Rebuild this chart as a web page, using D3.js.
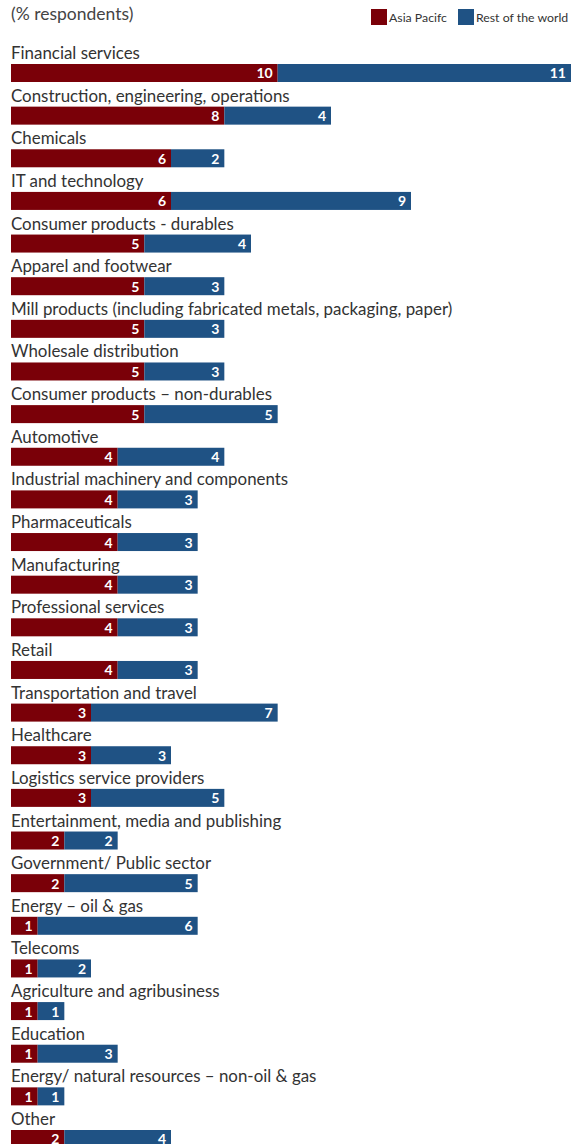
<!DOCTYPE html>
<html>
<head>
<meta charset="utf-8">
<script src="https://cdn.jsdelivr.net/npm/d3@7"></script>
<style>
  body { margin: 0; background: #fff; }
  svg text { font-family: "Lato", sans-serif; }
</style>
</head>
<body>
<div class="holder"></div>
<script>
// categories and the two series
var categories = [
  "Financial services",
  "Construction, engineering, operations",
  "Chemicals",
  "IT and technology",
  "Consumer products - durables",
  "Apparel and footwear",
  "Mill products (including fabricated metals, packaging, paper)",
  "Wholesale distribution",
  "Consumer products \u2013 non-durables",
  "Automotive",
  "Industrial machinery and components",
  "Pharmaceuticals",
  "Manufacturing",
  "Professional services",
  "Retail",
  "Transportation and travel",
  "Healthcare",
  "Logistics service providers",
  "Entertainment, media and publishing",
  "Government/ Public sector",
  "Energy \u2013 oil & gas",
  "Telecoms",
  "Agriculture and agribusiness",
  "Education",
  "Energy/ natural resources \u2013 non-oil & gas",
  "Other"
];
var asiaPacific = [10, 8, 6, 6, 5, 5, 5, 5, 5, 4, 4, 4, 4, 4, 4, 3, 3, 3, 2, 2, 1, 1, 1, 1, 1, 2];
var restOfWorld = [11, 4, 2, 9, 4, 3, 3, 3, 5, 4, 3, 3, 3, 3, 3, 7, 3, 5, 2, 5, 6, 2, 1, 3, 1, 4];
var seriesNames = ["Asia Pacifc", "Rest of the world"];
var colors = ["#7a0008", "#1f5284"];

var width = 574, height = 1144;
var marginLeft = 11, marginRight = 3;

var svg = d3.select(".holder").append("svg")
  .attr("width", width)
  .attr("height", height);

var rows = categories.map(function(c, i) {
  return { name: c, vals: [asiaPacific[i], restOfWorld[i]] };
});

var x = d3.scaleLinear()
  .domain([0, d3.max(rows, function(d) { return d.vals[0] + d.vals[1]; })])
  .range([marginLeft, width - marginRight]);

var y = d3.scaleBand()
  .domain(categories)
  .range([42.4, 42.4 + categories.length * 42.64])
  .paddingInner(0);

var barTop = 21.6, barH = 18;

// title
svg.append("text")
  .attr("x", 11).attr("y", 20)
  .style("font-size", "17.5px")
  .style("fill", "#444")
  .text("(% respondents)");

// legend
var legend = svg.append("g");
var legendX = [371, 458];
seriesNames.forEach(function(n, i) {
  legend.append("rect")
    .attr("x", legendX[i]).attr("y", 9)
    .attr("width", 16).attr("height", 16)
    .style("fill", colors[i]);
  legend.append("text")
    .attr("x", legendX[i] + 18).attr("y", 22)
    .style("font-size", "12.3px")
    .style("fill", "#333")
    .text(n);
});

var row = svg.selectAll("g.row")
  .data(rows)
  .enter().append("g")
  .attr("class", "row")
  .attr("transform", function(d) { return "translate(0," + y(d.name) + ")"; });

row.append("text")
  .attr("x", 11).attr("y", 16.6)
  .style("font-size", "16.9px")
  .style("fill", "#333")
  .text(function(d) { return d.name; });

row.each(function(d) {
  var g = d3.select(this);
  var start = 0;
  d.vals.forEach(function(v, i) {
    var x0 = x(start), x1 = x(start + v);
    g.append("rect")
      .attr("x", x0).attr("y", barTop)
      .attr("width", x1 - x0).attr("height", barH)
      .style("fill", colors[i]);
    g.append("text")
      .attr("x", x1 - 5).attr("y", barTop + 14.5)
      .attr("text-anchor", "end")
      .style("font-size", "14px")
      .style("font-weight", "bold")
      .style("fill", "#fff")
      .text(v);
    start += v;
  });
});
</script>
</body>
</html>
